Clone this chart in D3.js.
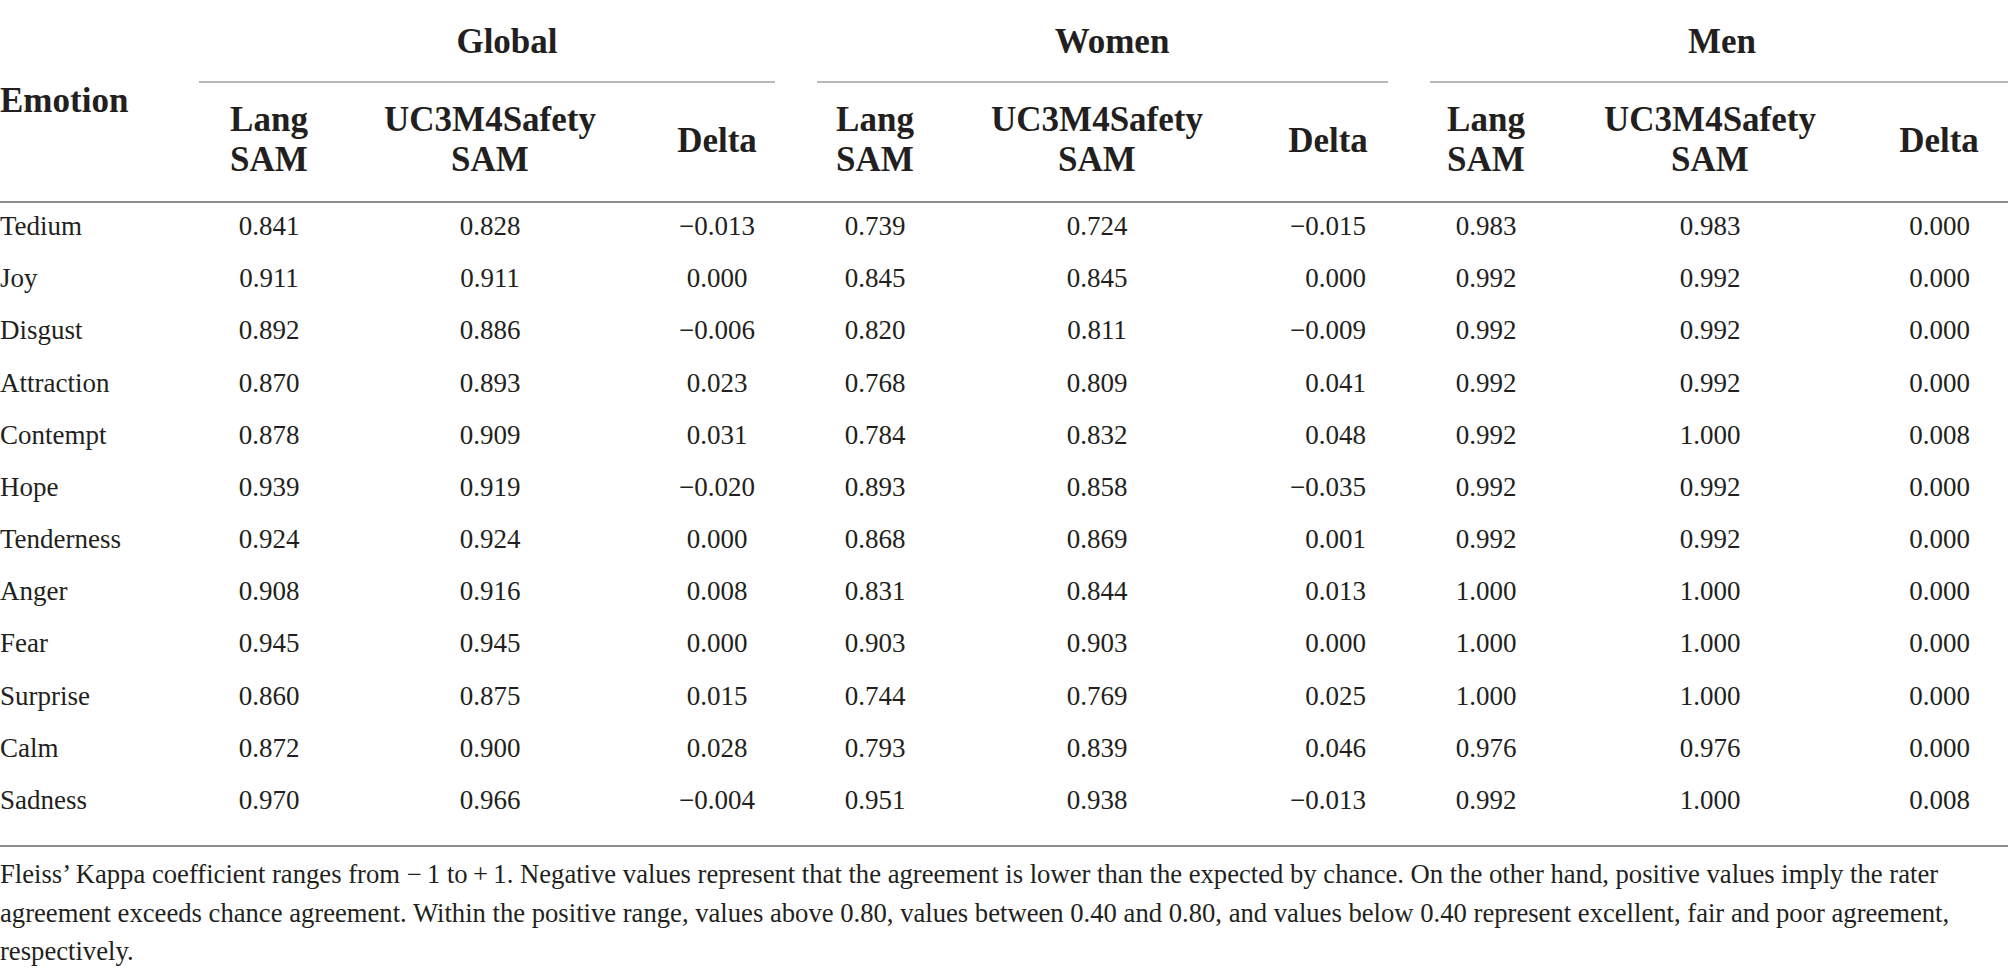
<!DOCTYPE html>
<html>
<head>
<meta charset="utf-8">
<script src="https://cdn.jsdelivr.net/npm/d3@7"></script>
<style>
  body { margin: 0; background: #fff; }
  text { font-family: "Liberation Serif", "DejaVu Serif", serif; fill: #231f20; }
</style>
</head>
<body>
<div id="table"></div>
<script>
// Table data, one array per column.
var emotions = ['Tedium', 'Joy', 'Disgust', 'Attraction', 'Contempt', 'Hope',
                'Tenderness', 'Anger', 'Fear', 'Surprise', 'Calm', 'Sadness'];

var globalLang  = [0.841, 0.911, 0.892, 0.870, 0.878, 0.939, 0.924, 0.908, 0.945, 0.860, 0.872, 0.970];
var globalUc3m  = [0.828, 0.911, 0.886, 0.893, 0.909, 0.919, 0.924, 0.916, 0.945, 0.875, 0.900, 0.966];
var globalDelta = [-0.013, 0.000, -0.006, 0.023, 0.031, -0.020, 0.000, 0.008, 0.000, 0.015, 0.028, -0.004];

var womenLang  = [0.739, 0.845, 0.820, 0.768, 0.784, 0.893, 0.868, 0.831, 0.903, 0.744, 0.793, 0.951];
var womenUc3m  = [0.724, 0.845, 0.811, 0.809, 0.832, 0.858, 0.869, 0.844, 0.903, 0.769, 0.839, 0.938];
var womenDelta = [-0.015, 0.000, -0.009, 0.041, 0.048, -0.035, 0.001, 0.013, 0.000, 0.025, 0.046, -0.013];

var menLang  = [0.983, 0.992, 0.992, 0.992, 0.992, 0.992, 0.992, 1.000, 1.000, 1.000, 0.976, 0.992];
var menUc3m  = [0.983, 0.992, 0.992, 0.992, 1.000, 0.992, 0.992, 1.000, 1.000, 1.000, 0.976, 1.000];
var menDelta = [0.000, 0.000, 0.000, 0.000, 0.008, 0.000, 0.000, 0.000, 0.000, 0.000, 0.000, 0.008];

var groups = ['Global', 'Women', 'Men'];
var subHeaders = [['Lang', 'SAM'], ['UC3M4Safety', 'SAM'], ['Delta']];

var footnote = [
  'Fleiss\u2019 Kappa coefficient ranges from \u2212\u20091 to\u2009+\u20091. Negative values represent that the agreement is lower than the expected by chance. On the other hand, positive values imply the rater',
  'agreement exceeds chance agreement. Within the positive range, values above 0.80, values between 0.40 and 0.80, and values below 0.40 represent excellent, fair and poor agreement,',
  'respectively.'
];

// Page size.
var width = 2008,
    height = 973;

var svg = d3.select('#table')
  .append('svg')
    .attr('width', width)
    .attr('height', height);

// Column layout: where each cell sits and how it is anchored.
var columns = [
  {group: 'Global', sub: 0, values: globalLang,  x: 269,  anchor: 'middle'},
  {group: 'Global', sub: 1, values: globalUc3m,  x: 490,  anchor: 'middle'},
  {group: 'Global', sub: 2, values: globalDelta, x: 717,  anchor: 'middle', head: 717},
  {group: 'Women',  sub: 0, values: womenLang,   x: 875,  anchor: 'middle'},
  {group: 'Women',  sub: 1, values: womenUc3m,   x: 1097, anchor: 'middle'},
  {group: 'Women',  sub: 2, values: womenDelta,  x: 1366, anchor: 'end', head: 1328},
  {group: 'Men',    sub: 0, values: menLang,     x: 1486, anchor: 'middle'},
  {group: 'Men',    sub: 1, values: menUc3m,     x: 1710, anchor: 'middle'},
  {group: 'Men',    sub: 2, values: menDelta,    x: 1970, anchor: 'end', head: 1939}
];

var groupLayout = {
  Global: {cx: 507,  x0: 199,  x1: 775},
  Women:  {cx: 1112, x0: 817,  x1: 1388},
  Men:    {cx: 1722, x0: 1430, x1: 2008}
};

// Row positions (baselines).
var y = d3.scalePoint()
  .domain(emotions)
  .range([235, 809]);

var fmt = function(v){ return d3.format('.3f')(v).replace('-', '\u2212'); };

// Rules.
svg.append('line')
  .attr('x1', 0).attr('x2', width)
  .attr('y1', 202).attr('y2', 202)
  .attr('stroke', '#8c8c8c').attr('stroke-width', 2);

svg.append('line')
  .attr('x1', 0).attr('x2', width)
  .attr('y1', 846).attr('y2', 846)
  .attr('stroke', '#8c8c8c').attr('stroke-width', 2);

svg.selectAll('.group-rule')
  .data(groups)
  .enter().append('line')
    .attr('class', 'group-rule')
    .attr('x1', function(d){ return groupLayout[d].x0; })
    .attr('x2', function(d){ return groupLayout[d].x1; })
    .attr('y1', 82).attr('y2', 82)
    .attr('stroke', '#b8b8b8').attr('stroke-width', 2);

// Group headers.
svg.selectAll('.group-head')
  .data(groups)
  .enter().append('text')
    .attr('class', 'group-head')
    .attr('x', function(d){ return groupLayout[d].cx; })
    .attr('y', 53)
    .attr('text-anchor', 'middle')
    .style('font-size', '35px')
    .style('font-weight', 'bold')
    .text(function(d){ return d; });

svg.append('text')
  .attr('x', 0)
  .attr('y', 112)
  .style('font-size', '35px')
  .style('font-weight', 'bold')
  .text('Emotion');

// Sub headers.
columns.forEach(function(c){
  var lines = subHeaders[c.sub];
  var hx = c.head !== undefined ? c.head : c.x;
  var t = svg.append('text')
    .attr('text-anchor', 'middle')
    .style('font-size', '35px')
    .style('font-weight', 'bold');
  if (lines.length === 2) {
    t.append('tspan').attr('x', hx).attr('y', 131).text(lines[0]);
    t.append('tspan').attr('x', hx).attr('y', 171).text(lines[1]);
  } else {
    t.append('tspan').attr('x', hx).attr('y', 152).text(lines[0]);
  }
});

// Emotion labels.
svg.selectAll('.emotion')
  .data(emotions)
  .enter().append('text')
    .attr('class', 'emotion')
    .attr('x', 0)
    .attr('y', function(d){ return y(d); })
    .style('font-size', '27px')
    .text(function(d){ return d; });

// Value cells.
columns.forEach(function(c, ci){
  svg.selectAll('.cell-' + ci)
    .data(c.values)
    .enter().append('text')
      .attr('class', 'cell-' + ci)
      .attr('x', c.x)
      .attr('y', function(d, i){ return y(emotions[i]); })
      .attr('text-anchor', c.anchor)
      .style('font-size', '27px')
      .text(function(d){ return fmt(d); });
});

// Footnote, sized so the first line fills the same width as the original.
var note = svg.selectAll('.note')
  .data(footnote)
  .enter().append('text')
    .attr('class', 'note')
    .attr('x', 0)
    .attr('y', function(d, i){ return 883 + i * 38.5; })
    .style('font-size', '27px')
    .text(function(d){ return d; });

var w0 = note.nodes()[0].getComputedTextLength();
var fs = Math.min(27, 27 * 1939 / w0);
note.style('font-size', fs + 'px');
</script>
</body>
</html>
